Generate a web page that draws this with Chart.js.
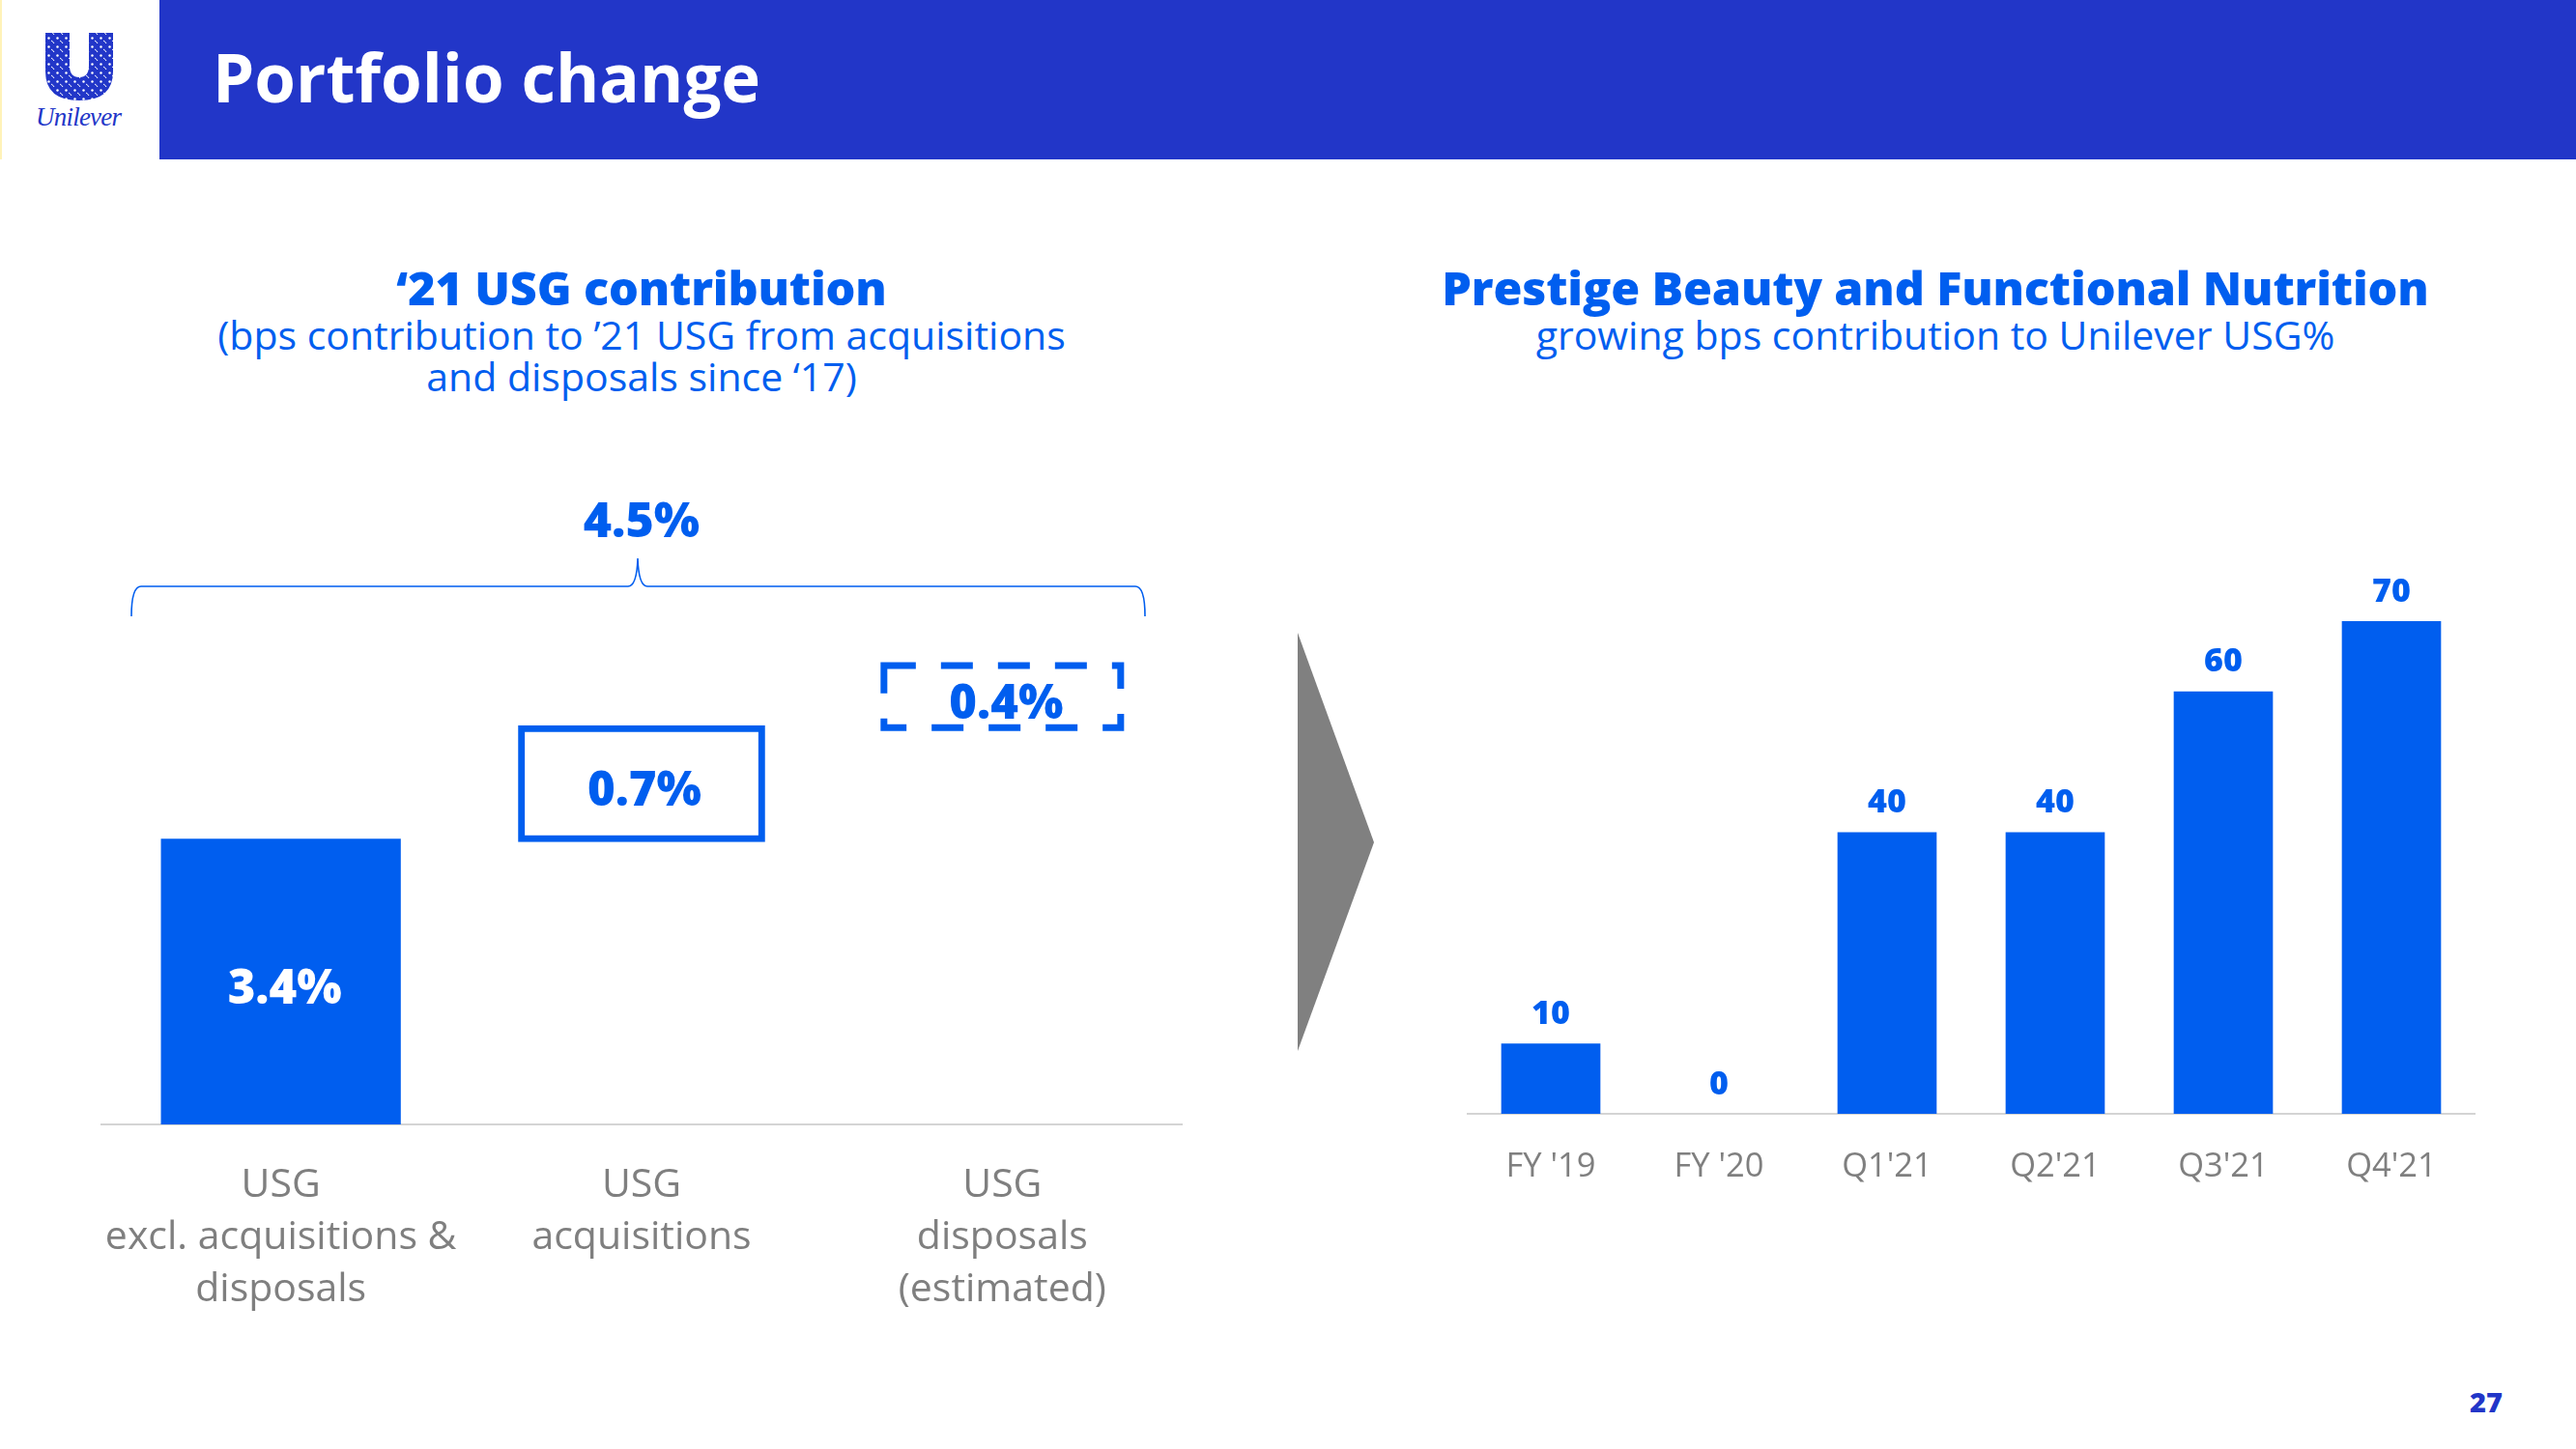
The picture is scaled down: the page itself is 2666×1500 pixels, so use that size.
<!DOCTYPE html>
<html lang="en">
<head>
<meta charset="utf-8">
<script src="https://cdn.jsdelivr.net/npm/chart.js@4"></script>
<style>
  html, body { margin: 0; padding: 0; background: #fff; }
  body { width: 2666px; height: 1500px; position: relative; overflow: hidden; font-family: "Open Sans", sans-serif; font-variant-ligatures: none; }
  .abs { position: absolute; }
  .band { left: 165px; top: 0; width: 2501px; height: 165px; background: #2236c8; }
  .edge { left: 0; top: 0; width: 2px; height: 165px; background: #fff2b8; }
  .title { left: 220px; top: 37px; font-size: 69px; line-height: 84px; font-weight: 700; color: #fff; white-space: nowrap; }
  .head { color: #005eef; text-align: center; white-space: nowrap; transform: translateX(-50%); }
  .h1 { font-size: 48.5px; line-height: 60px; font-weight: 800; letter-spacing: -0.15px; }
  .h2 { font-size: 41px; line-height: 43px; font-weight: 400; }
  .total { font-size: 50px; line-height: 60px; font-weight: 800; color: #005eef; }
  .page { left: 2556px; top: 1436px; font: 800 29px/30px "Open Sans", sans-serif; color: #2236c8; }
  canvas { position: absolute; }
</style>
</head>
<body>
<div class="abs band"></div>
<div class="abs edge"></div>
<div class="abs title">Portfolio change</div>

<!-- logo -->
<svg class="abs" style="left:30px;top:28px" width="105" height="112" viewBox="0 0 105 112">
  <defs>
    <pattern id="blobs" width="9" height="9" patternUnits="userSpaceOnUse">
      <rect width="9" height="9" fill="#2236c8"/>
      <circle cx="2.5" cy="2.5" r="1.2" fill="#fff"/>
      <path d="M5 5q2 1 3 3" stroke="#fff" stroke-width="1" fill="none"/>
    </pattern>
  </defs>
  <path d="M17 6h25v34q0 12 10 12q10 0 10-12V6h25v40q0 30-35 30t-35-30z" fill="url(#blobs)"/>
  <text x="7" y="102" textLength="89" font-family="Liberation Serif, serif" font-style="italic" font-size="27" fill="#2236c8">Unilever</text>
</svg>

<div class="abs head h1" style="left:664px;top:267px">‘21 USG contribution</div>
<div class="abs head h2" style="left:664px;top:325px">(bps contribution to ’21 USG from acquisitions<br>and disposals since ‘17)</div>
<div class="abs head h1" style="left:2003px;top:267px">Prestige Beauty and Functional Nutrition</div>
<div class="abs head h2" style="left:2003px;top:325px">growing bps contribution to Unilever USG%</div>

<div class="abs head total" style="left:664px;top:507px">4.5%</div>

<!-- brace and arrow -->
<svg class="abs" style="left:0;top:0" width="2666" height="1500">
  <path d="M136 638 Q136 607 146 607 H650 Q659 607 660 578 Q661 607 670 607 H1175 Q1185 607 1185 638" fill="none" stroke="#005eef" stroke-width="1.6"/>
  <polygon points="1343,655 1422,872 1343,1088" fill="#808080"/>
</svg>

<canvas id="usgChart" width="1120" height="800" style="left:104px;top:642px"></canvas>
<canvas id="prestigeChart" width="1044" height="700" style="left:1518px;top:570px"></canvas>

<div class="abs page">27</div>

<script>
const BLUE = '#005eef';

const usgCategories = [
  ['USG', 'excl. acquisitions &', 'disposals'],
  ['USG', 'acquisitions'],
  ['USG', 'disposals', '(estimated)']
];
const excludingRange = [[0, 3.4], null, null];
const acquisitionsRange = [null, [3.36, 4.75], null];
const disposalsRange = [null, null, [4.68, 5.5]];
const usgLabels = ['3.4%', '0.7%', '0.4%'];

const prestigeCategories = ["FY '19", "FY '20", "Q1'21", "Q2'21", "Q3'21", "Q4'21"];
const prestigeValues = [10, 0, 40, 40, 60, 70];

Chart.defaults.animation = false;
Chart.defaults.devicePixelRatio = 1;

const usgDrawing = {
  id: 'usgDrawing',
  afterDatasetsDraw(chart) {
    const ctx = chart.ctx;
    const bars = [0, 1, 2].map(i => chart.getDatasetMeta(i).data[i]);
    ctx.save();
    // chart.js bars have no dashed border, so the estimated one is stroked here
    const d = bars[2];
    ctx.strokeStyle = BLUE;
    ctx.lineWidth = 7;
    ctx.setLineDash([33, 26]);
    ctx.strokeRect(d.x - d.width / 2 + 3.5, d.y + 3.5, d.width - 7, d.base - d.y - 7);
    ctx.setLineDash([]);
    ctx.font = '800 49px "Open Sans"';
    ctx.textAlign = 'center';
    ctx.textBaseline = 'middle';
    bars.forEach((b, i) => {
      ctx.fillStyle = i === 0 ? '#fff' : BLUE;
      ctx.fillText(usgLabels[i], b.x + (i === 0 ? 4 : i === 2 ? 4 : 3), (b.y + b.base) / 2 + 9);
    });
    ctx.restore();
  }
};

const prestigeLabels = {
  id: 'prestigeLabels',
  afterDatasetsDraw(chart) {
    const ctx = chart.ctx;
    ctx.save();
    ctx.font = '800 34px "Open Sans"';
    ctx.fillStyle = BLUE;
    ctx.textAlign = 'center';
    ctx.textBaseline = 'middle';
    chart.getDatasetMeta(0).data.forEach((b, i) => {
      ctx.fillText(String(prestigeValues[i]), b.x, b.y - 30);
    });
    ctx.restore();
  }
};

new Chart(document.getElementById('usgChart'), {
  type: 'bar',
  data: {
    labels: usgCategories,
    datasets: [
      { data: excludingRange, backgroundColor: BLUE, grouped: false, barPercentage: 0.665, categoryPercentage: 1 },
      { data: acquisitionsRange, backgroundColor: 'transparent', borderColor: BLUE, borderWidth: 7, borderSkipped: false, grouped: false, barPercentage: 0.685, categoryPercentage: 1 },
      { data: disposalsRange, backgroundColor: 'transparent', borderWidth: 0, grouped: false, barPercentage: 0.675, categoryPercentage: 1 }
    ]
  },
  options: {
    responsive: false,
    plugins: { legend: { display: false }, tooltip: { enabled: false } },
    scales: {
      y: { display: false, min: 0, max: 6 },
      x: {
        afterFit(scale) { scale.height = 278; scale.paddingLeft = 0; scale.paddingRight = 0; },
        grid: { display: false },
        border: { color: '#d4d4d4', width: 2 },
        ticks: {
          color: '#7f7f7f', padding: 28, autoSkip: false, maxRotation: 0,
          font: { family: 'Open Sans', size: 41, lineHeight: 54 / 41 }
        }
      }
    }
  },
  plugins: [usgDrawing]
});

new Chart(document.getElementById('prestigeChart'), {
  type: 'bar',
  data: {
    labels: prestigeCategories,
    datasets: [{
      data: prestigeValues,
      backgroundColor: BLUE,
      barPercentage: 0.59,
      categoryPercentage: 1
    }]
  },
  options: {
    responsive: false,
    plugins: { legend: { display: false }, tooltip: { enabled: false } },
    scales: {
      y: { display: false, min: 0, max: 80 },
      x: {
        afterFit(scale) { scale.height = 117; },
        grid: { display: false },
        border: { color: '#d4d4d4', width: 2 },
        ticks: {
          color: '#7f7f7f', padding: 26, autoSkip: false, maxRotation: 0,
          font: { family: 'Open Sans', size: 34.5, lineHeight: 1.2 }
        }
      }
    }
  },
  plugins: [prestigeLabels]
});
</script>
</body>
</html>
